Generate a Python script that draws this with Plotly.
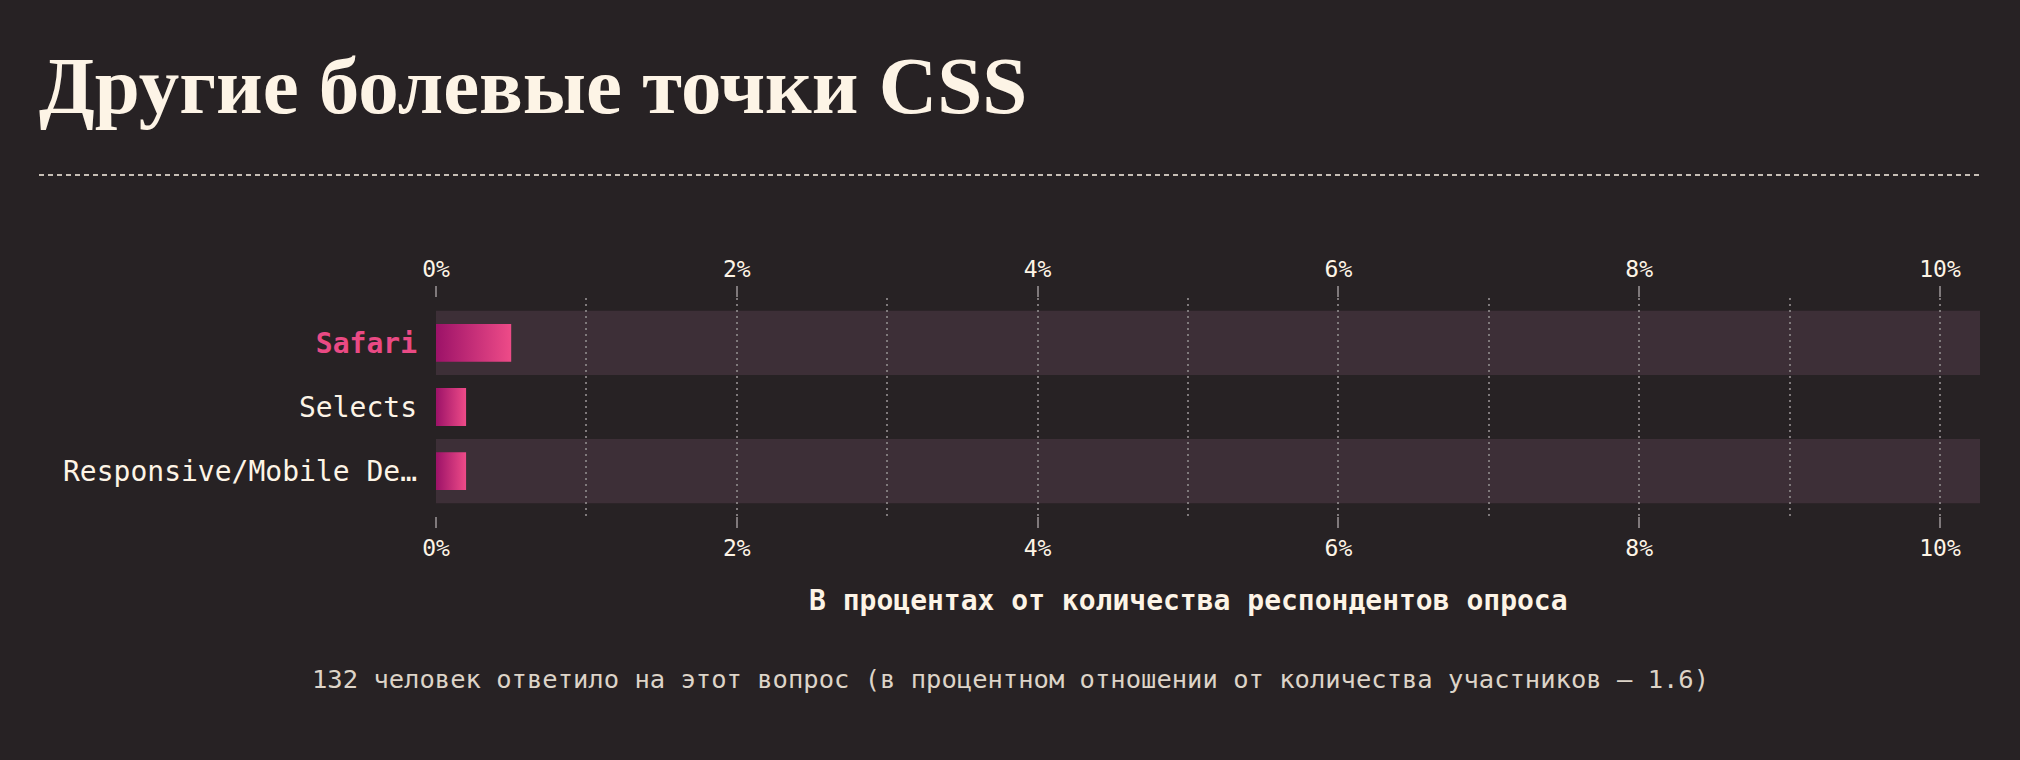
import plotly.graph_objects as go

categories = ["Safari", "Selects", "Responsive/Mobile De…"]
values = [0.5, 0.2, 0.2]
highlight = [True, False, False]
tick_vals = [0, 2, 4, 6, 8, 10]
tick_text = ["0%", "2%", "4%", "6%", "8%", "10%"]

title_text = "Другие болевые точки CSS"
axis_title = "В процентах от количества респондентов опроса"
footer_text = "132 человек ответило на этот вопрос (в процентном отношении от количества участников — 1.6)"

BG = "#272224"
BAND = "#3d2f37"
CREAM = "#fdf4e6"
PINK = "#ea4a84"
GRID = "#7f797b"
MONO = "DejaVu Sans Mono, Liberation Mono, monospace"

W, H = 2020, 760
L, R, T, B = 436, 40, 298, 244
XMAX = 10.266
HALF = 0.295

def xp(px):
    return (px - L) / (W - L - R)

def yp(py):
    return (H - B - py) / (H - T - B)

fig = go.Figure()

for i, (c, v) in enumerate(zip(categories, values)):
    fig.add_trace(go.Scatter(
        x=[0, v, v, 0, 0],
        y=[i - HALF, i - HALF, i + HALF, i + HALF, i - HALF],
        mode="lines",
        line=dict(width=0, color="rgba(0,0,0,0)"),
        fill="toself",
        fillgradient=dict(type="horizontal",
                          colorscale=[[0, "#9c1268"], [1, "#ee4b88"]]),
        hoverinfo="skip",
        showlegend=False,
    ))

# invisible trace for top axis
fig.add_trace(go.Scatter(x=[0, 10], y=[0, 0], xaxis="x2", mode="markers",
                         marker=dict(opacity=0), hoverinfo="skip", showlegend=False))

ticktext_y = []
for c, h in zip(categories, highlight):
    if h:
        ticktext_y.append(f"<b><span style='color:{PINK}'>{c}</span></b>")
    else:
        ticktext_y.append(c)

shapes = []
for i in range(len(categories)):
    if i % 2 == 0:
        shapes.append(dict(type="rect", xref="paper", yref="y", x0=0, x1=1,
                           y0=i - 0.5, y1=i + 0.5, fillcolor=BAND,
                           line=dict(width=0), layer="below"))
shapes.append(dict(type="line", xref="paper", yref="paper",
                   x0=xp(39), x1=xp(1980), y0=yp(175), y1=yp(175),
                   line=dict(color=CREAM, width=1.5, dash="5px,4px")))

DOT = "2px,4px"

axis_common = dict(
    range=[0, XMAX],
    tickvals=tick_vals,
    ticktext=tick_text,
    ticks="outside",
    ticklen=11,
    tickwidth=2,
    tickcolor=GRID,
    tickfont=dict(family=MONO, size=23, color=CREAM),
    showgrid=True,
    gridcolor=GRID,
    gridwidth=2,
    griddash=DOT,
    zeroline=False,
    showline=False,
    fixedrange=True,
)

fig.update_layout(
    width=W, height=H,
    margin=dict(l=L, r=R, t=T, b=B, pad=0),
    paper_bgcolor=BG,
    plot_bgcolor=BG,
    showlegend=False,
    title=dict(text=f"<b>{title_text}</b>", x=39 / W, xanchor="left",
               xref="container", yref="container",
               y=1 - 85 / H, yanchor="middle",
               font=dict(family="Liberation Serif, serif", size=81, color=CREAM)),
    xaxis=dict(**axis_common, side="bottom",
               minor=dict(dtick=1, tick0=0, showgrid=True, gridcolor=GRID,
                          gridwidth=2, griddash=DOT, ticks="")),
    xaxis2=dict(**axis_common, side="top", overlaying="x", matches="x"),
    yaxis=dict(range=[2.7, -0.7], tickvals=list(range(len(categories))),
               ticktext=ticktext_y, showgrid=False, zeroline=False,
               ticks="", ticklabelstandoff=18,
               tickfont=dict(family=MONO, size=28, color=CREAM),
               fixedrange=True),
    shapes=shapes,
    annotations=[
        dict(text=f"<b>{axis_title}</b>", xref="x", yref="paper",
             x=5, y=yp(600), xanchor="center", yanchor="middle", showarrow=False,
             font=dict(family=MONO, size=28, color=CREAM)),
        dict(text=footer_text, xref="paper", yref="paper",
             x=xp(1010), y=yp(679), xanchor="center", yanchor="middle", showarrow=False,
             font=dict(family=MONO, size=25.5, color="#ddd4c8")),
    ],
)

fig.write_html("out.html")
